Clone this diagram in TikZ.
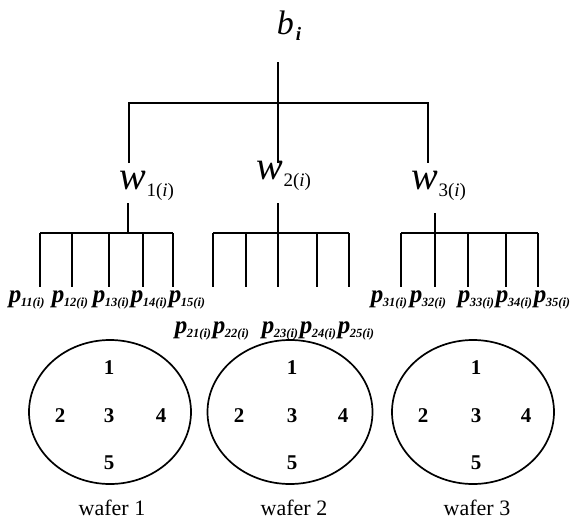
\documentclass[tikz,border=0pt]{standalone}
\usepackage{fontspec}
\setmainfont{Liberation Serif}
\usetikzlibrary{shapes.geometric}
\newcommand{\plab}[1]{{\fontsize{25}{25}\selectfont\bfseries\itshape p}\kern-0.5pt\raisebox{-4pt}{\fontsize{12.5}{12.5}\selectfont\bfseries\itshape #1(i)}}
\newcommand{\wlab}[1]{{\fontsize{40}{40}\selectfont\itshape w}\raisebox{-7pt}{\fontsize{19}{19}\selectfont #1(\textit{i})}}
\begin{document}
\begin{tikzpicture}[x=1pt,y=-1pt,line width=1.7pt,
  lab/.style={inner sep=0pt,anchor=base west},
  num/.style={inner sep=0pt,font=\fontsize{21}{21}\selectfont\bfseries},
  waferlab/.style={inner sep=0pt,anchor=base,font=\fontsize{22}{22}\selectfont},
  wafer/.style={draw,ellipse,line width=1.7pt,minimum width=162pt,minimum height=144pt,inner sep=0pt}]
\useasboundingbox (0,0) rectangle (571,523);
% top
\node[lab] (b) at (276,34) {{\fontsize{34}{34}\selectfont\itshape b}\kern2pt\raisebox{-6pt}{\fontsize{19}{19}\selectfont\bfseries\itshape i}};
\coordinate (btop) at (278,62);
\coordinate (bmid) at (278,103);
\coordinate (bl) at (129,103);
\coordinate (br) at (428,103);
\coordinate (blb) at (129,163);
\coordinate (brb) at (428,163);
\coordinate (bmb) at (278,163);
\draw (btop) -- (bmb);
\draw (blb) -- (bl) -- (br) -- (brb);
% w labels
\node[lab] (w1) at (119,189) {\wlab{1}};
\node[lab] (w2) at (256,179) {\wlab{2}};
\node[lab] (w3) at (411,189) {\wlab{3}};
% group bars
\coordinate (w1t) at (128,203); \coordinate (w1b) at (128,233);
\coordinate (w2t) at (278,203); \coordinate (w2b) at (278,233);
\coordinate (w3t) at (435,213); \coordinate (w3b) at (435,233);
\draw (w1t) -- (w1b);
\draw (w2t) -- (w2b);
\draw (w3t) -- (w3b);
\foreach \g/\xs in {1/{40,72,109,143,173},2/{213,246,278,317,349},3/{401,435,468,506,538}}{
  \foreach \x [count=\k] in \xs {
    \coordinate (g\g t\k) at (\x,233);
    \coordinate (g\g b\k) at (\x,287);
    \draw (g\g t\k) -- (g\g b\k);
  }
  \draw (g\g t1) -- (g\g t5);
}
% p labels
\foreach \x [count=\k] in {8,51,92,130,168}{\node[lab] (p1\k) at (\x,302) {\plab{1\k}};}
\foreach \x [count=\k] in {174,212,261,299,337}{\node[lab] (p2\k) at (\x,333) {\plab{2\k}};}
\foreach \x [count=\k] in {370,409,457,495,533}{\node[lab] (p3\k) at (\x,302) {\plab{3\k}};}
% wafers
\node[wafer] (wf1) at (110,412) {};
\node[wafer,minimum width=165pt] (wf2) at (290,412) {};
\node[wafer] (wf3) at (473,412) {};
\foreach \i/\cx/\lx/\rx/\tx in {1/109/60/161/112,2/292/239/343/294,3/476/423/526/477}{
  \node[num] (n\i a) at (\cx,368) {1};
  \node[num] (n\i b) at (\lx,416) {2};
  \node[num] (n\i c) at (\cx,416) {3};
  \node[num] (n\i d) at (\rx,416) {4};
  \node[num] (n\i e) at (\cx,463) {5};
  \node[waferlab] (wl\i) at (\tx,515) {wafer \i};
}
\end{tikzpicture}
\end{document}
